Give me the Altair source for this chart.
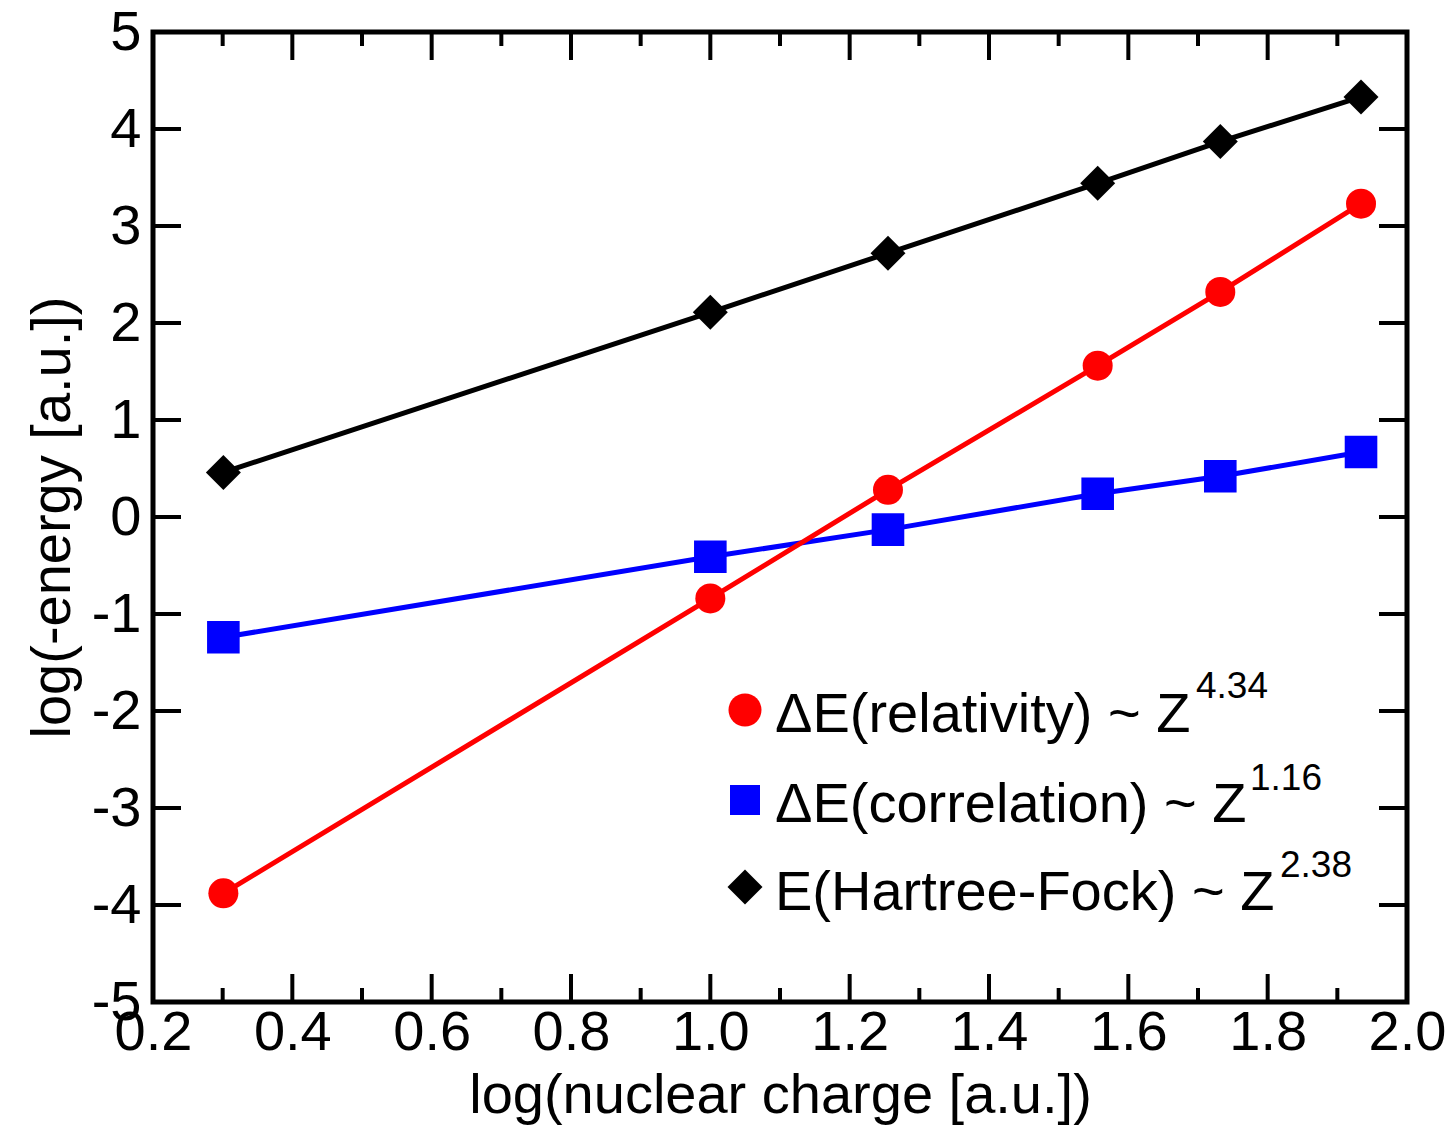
import altair as alt
import pandas as pd

# log10 of the nuclear charge Z (He, Ne, Ar, Kr, Xe, Rn)
log_z = [0.301, 1.000, 1.255, 1.556, 1.732, 1.934]

# log10 of minus the energy in atomic units
log_e_hartree_fock = [0.46, 2.11, 2.72, 3.44, 3.87, 4.33]
log_e_correlation = [-1.24, -0.41, -0.13, 0.24, 0.42, 0.67]
log_e_relativity = [-3.88, -0.84, 0.28, 1.56, 2.32, 3.23]

series_names = ["hartree_fock", "correlation", "relativity"]
series_colors = ["#000000", "#0000ff", "#ff0000"]
series_shapes = ["diamond", "square", "circle"]
series_sizes = [1225, 900, 1090]

legend_order = ["relativity", "correlation", "hartree_fock"]
legend_labels = ["ΔE(relativity) ~ Z", "ΔE(correlation) ~ Z", "E(Hartree-Fock) ~ Z"]
legend_exponents = ["4.34", "1.16", "2.38"]

x_major = [0.2, 0.4, 0.6, 0.8, 1.0, 1.2, 1.4, 1.6, 1.8, 2.0]
x_minor = [0.3, 0.5, 0.7, 0.9, 1.1, 1.3, 1.5, 1.7, 1.9]
y_major = [-5, -4, -3, -2, -1, 0, 1, 2, 3, 4, 5]

x_title = "log(nuclear charge [a.u.])"
y_title = "log(-energy [a.u.])"

FONT = "Liberation Sans"
W, H = 1254, 970
MAJOR, MINOR = 28, 14

rows = []
for name, ys in zip(series_names, [log_e_hartree_fock, log_e_correlation, log_e_relativity]):
    for xv, yv in zip(log_z, ys):
        rows.append({"series": name, "x": xv, "y": yv})
df = pd.DataFrame(rows)

x_scale = alt.Scale(domain=[0.2, 2.0], nice=False, zero=False)
y_scale = alt.Scale(domain=[-5, 5], nice=False, zero=False)
color_scale = alt.Scale(domain=series_names, range=series_colors)
shape_scale = alt.Scale(domain=series_names, range=series_shapes)
size_scale = alt.Scale(domain=series_names, range=series_sizes)

x_axis = alt.Axis(
    values=x_major, ticks=False, domain=False, grid=False,
    labelExpr="format(datum.value, '.1f')", labelFont=FONT, labelFontSize=56,
    labelColor="black", labelPadding=3, labelFlush=False, labelOverlap=False,
    labelBound=False, title=x_title, titleFont=FONT, titleFontSize=56,
    titleFontWeight="normal", titleColor="black", titlePadding=8,
)
y_axis = alt.Axis(
    values=y_major, ticks=False, domain=False, grid=False,
    labelExpr="'' + datum.value", labelFont=FONT, labelFontSize=56,
    labelColor="black", labelPadding=12, labelFlush=False, labelOverlap=False,
    labelBound=False, title=y_title, titleFont=FONT, titleFontSize=56,
    titleFontWeight="normal", titleColor="black", titlePadding=10,
)


def xq(field):
    return alt.X(f"{field}:Q", scale=x_scale, axis=x_axis, title=x_title)


def yq(field):
    return alt.Y(f"{field}:Q", scale=y_scale, axis=y_axis, title=y_title)


base = alt.Chart(df)

lines = base.mark_line(strokeWidth=5).encode(
    x=xq("x"),
    y=yq("y"),
    color=alt.Color("series:N", scale=color_scale, legend=None),
    detail="series:N",
    order=alt.Order("x:Q"),
)

points = base.mark_point(filled=True, opacity=1).encode(
    x=xq("x"),
    y=yq("y"),
    color=alt.Color("series:N", scale=color_scale, legend=None),
    shape=alt.Shape("series:N", scale=shape_scale, legend=None),
    size=alt.Size("series:N", scale=size_scale, legend=None),
)

# inward ticks on all four sides
xt_major = pd.DataFrame({"x": x_major})
xt_minor = pd.DataFrame({"x": x_minor})
yt_major = pd.DataFrame({"y": y_major})

tick_layers = []
for tdf, length in [(xt_major, MAJOR), (xt_minor, MINOR)]:
    for y0, y1 in [(H, H - length), (0, length)]:
        tick_layers.append(
            alt.Chart(tdf).mark_rule(color="black", strokeWidth=4).encode(
                x=xq("x"),
                y=alt.value(y0), y2=alt.value(y1),
            )
        )
for x0, x1 in [(0, MAJOR), (W, W - MAJOR)]:
    tick_layers.append(
        alt.Chart(yt_major).mark_rule(color="black", strokeWidth=4).encode(
            y=yq("y"),
            x=alt.value(x0), x2=alt.value(x1),
        )
    )

# legend drawn inside the plot, with superscripted exponents
sym_x, text_x = 592, 622
sym_y = [678, 768, 855]
text_y = [700, 790, 878]
sup_x = [1043, 1097, 1127]
sup_y = [666, 758, 845]

legend_layers = []
for i, name in enumerate(legend_order):
    k = series_names.index(name)
    one = pd.DataFrame({"series": [name], "label": [legend_labels[i]], "exp": [legend_exponents[i]]})
    c = alt.Chart(one)
    legend_layers.append(
        c.mark_point(filled=True, opacity=1, shape=series_shapes[k],
                     size=series_sizes[k], color=series_colors[k]).encode(
            x=alt.value(sym_x), y=alt.value(sym_y[i]))
    )
    legend_layers.append(
        c.mark_text(font=FONT, fontSize=56, align="left", baseline="alphabetic",
                    color="black").encode(
            x=alt.value(text_x), y=alt.value(text_y[i]), text="label:N")
    )
    legend_layers.append(
        c.mark_text(font=FONT, fontSize=37, align="left", baseline="alphabetic",
                    color="black").encode(
            x=alt.value(sup_x[i]), y=alt.value(sup_y[i]), text="exp:N")
    )

chart = alt.layer(lines, points, *tick_layers, *legend_layers).properties(
    width=W, height=H,
    autosize=alt.AutoSizeParams(type="none"),
    padding={"left": 153, "top": 32, "right": 45, "bottom": 124},
    background="white",
).configure_view(
    stroke="black", strokeWidth=5,
)

chart.save("out.html", embed_options={"renderer": "svg", "actions": False})
